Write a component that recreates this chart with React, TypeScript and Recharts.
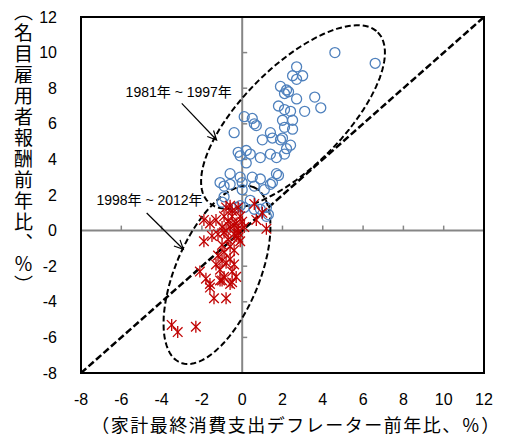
import { ScatterChart, Scatter, XAxis, YAxis, ReferenceLine, ReferenceArea } from "recharts"

const xTicks = [-8, -6, -4, -2, 0, 2, 4, 6, 8, 10, 12]
const yTicks = [-8, -6, -4, -2, 0, 2, 4, 6, 8, 10, 12]

// 1981-1997 (x: household consumption deflator yoy, y: compensation of employees yoy)
const period1 = [
  [4.6, 10.0], [6.6, 9.4], [2.7, 9.2], [2.5, 8.7], [3.0, 8.7], [2.7, 8.5], [1.9, 8.1], [2.2, 7.9],
  [2.1, 7.7], [2.3, 7.8], [2.7, 7.4], [3.6, 7.5], [3.9, 6.9], [3.1, 6.7], [1.8, 7.0], [2.1, 6.8],
  [2.4, 6.7], [0.1, 6.4], [0.5, 6.3], [0.6, 6.0], [0.7, 5.9], [2.0, 6.2], [2.5, 6.2], [2.1, 5.8],
  [2.5, 5.7], [-0.4, 5.5], [1.4, 5.5], [1.5, 5.2], [1.0, 5.1], [1.9, 5.1], [2.0, 5.2], [2.4, 4.8],
  [2.2, 4.6], [2.1, 4.3], [-0.2, 4.4], [0.2, 4.5], [0.4, 4.3], [-0.1, 4.2], [1.4, 4.3], [0.9, 4.1],
  [1.7, 4.1], [0.2, 3.8], [-0.6, 3.2], [0.5, 3.0], [0.9, 2.9], [1.7, 3.2], [1.8, 3.1], [-1.1, 2.7],
  [-0.9, 2.5], [0.0, 2.7], [0.0, 2.3], [0.6, 2.5], [1.4, 2.6], [1.5, 2.7], [1.1, 2.3], [-0.9, 1.9],
  [-1.0, 1.6], [-0.3, 1.3], [0.6, 1.2], [1.3, 0.9], [-0.1, 3.0], [-0.6, 2.6], [0.4, 1.7], [0.1, 1.3],
  [0.9, 1.2], [1.2, 1.3], [1.2, 0.8], [-0.1, 1.4],
]

// 1998-2012
const period2 = [
  [-0.6, 1.4], [-0.5, 1.1], [-0.2, 1.3], [-0.8, 1.3], [0.6, 1.5], [1.0, 1.0], [0.7, 0.6], [1.2, 0.1],
  [-1.9, 0.6], [-1.6, 0.4], [-1.3, 0.6], [-1.0, 0.2], [-0.8, 0.0], [-0.3, 0.4], [-0.1, 0.8], [-0.5, 0.8],
  [-0.9, 0.8], [-0.7, 0.5], [-0.9, -0.1], [-0.4, -0.2], [-0.2, -0.4], [-1.2, -0.2], [-0.3, -0.3], [-0.1, -0.6],
  [-0.7, -0.5], [-1.0, -0.8], [-0.6, -0.9], [-0.4, -1.1], [-0.9, -1.2], [-1.2, -1.4], [-1.9, -0.6], [-0.6, -1.6],
  [-1.0, -1.7], [-1.3, -1.9], [-0.8, -1.8], [-0.4, -1.9], [-1.1, -2.2], [-0.5, -2.3], [-2.1, -2.3], [-0.3, -2.6],
  [-0.9, -2.6], [-1.8, -2.7], [-1.1, -2.8], [-1.6, -3.0], [-0.5, -2.9], [-1.6, -3.2], [-1.0, -2.8], [-0.6, -3.0],
  [-1.4, -3.8], [-0.8, -3.8], [-3.5, -5.3], [-3.2, -5.7], [-2.3, -5.4], [-0.2, 0.1], [0.0, 0.5], [-0.4, 0.3],
  [-0.6, 0.2], [-0.2, -0.1], [0.1, 0.2], [-1.5, -0.3],
]

const periodLabels = ["1981年 ~ 1997年", "1998年 ~ 2012年"]
const xTitle = "（家計最終消費支出デフレーター前年比、％）"
const yTitle = "（名目雇用者報酬前年比、％）"

// dashed ellipses: centre + two conjugate half-axes, in data units
const ellipses = [
  { cx: 2.52, cy: 6.38, ux: 4.21, uy: 4.76, vx: 1.76, vy: -1.99 },
  { cx: -1.25, cy: -2.49, ux: 1.83, uy: 4.92, vx: 1.92, vy: -0.92 },
]

// label centre and arrow (from -> to), data units
const notes = [
  { lx: -3.15, ly: 7.8, fx: -3.0, fy: 7.15, tx: -1.27, ty: 5.09 },
  { lx: -4.6, ly: 1.72, fx: -4.74, fy: 0.99, tx: -2.92, ty: -1.05 },
]

const X_MIN = -8, X_MAX = 12, Y_MIN = -8, Y_MAX = 12
const FONT = "'Liberation Sans', Arial, 'Noto Sans CJK JP', sans-serif"
const CJK = "'Noto Sans CJK JP', 'Liberation Sans', sans-serif"
const BLUE = "#4F81BD"
const RED = "#C00000"
const GRAY = "#868686"

const blueData = period1.map(([x, y]) => ({ x, y }))
const redData = period2.map(([x, y]) => ({ x, y }))

function scales(p: any) {
  const sx = (v: number) => p.x + ((v - X_MIN) / (X_MAX - X_MIN)) * p.width
  const sy = (v: number) => p.y + ((Y_MAX - v) / (Y_MAX - Y_MIN)) * p.height
  return { sx, sy }
}

function ZeroAxes(p: any) {
  const { sx, sy } = scales(p)
  const x0 = sx(0)
  const y0 = sy(0)
  return (
    <g stroke={GRAY} strokeWidth={2}>
      <line x1={x0} y1={p.y} x2={x0} y2={p.y + p.height} />
      <line x1={p.x} y1={y0} x2={p.x + p.width} y2={y0} />
      {xTicks.map((t) => (
        <line key={`xt${t}`} x1={sx(t)} y1={y0} x2={sx(t)} y2={y0 - 5} strokeWidth={1.5} />
      ))}
      {yTicks.map((t) => (
        <line key={`yt${t}`} x1={x0} y1={sy(t)} x2={x0 + 5} y2={sy(t)} strokeWidth={1.5} />
      ))}
    </g>
  )
}

function Overlay(p: any) {
  const { sx, sy } = scales(p)
  const paths = ellipses.map((e) => {
    const pts: string[] = []
    for (let i = 0; i <= 120; i++) {
      const t = (i / 120) * Math.PI * 2
      const dx = e.cx + e.ux * Math.cos(t) + e.vx * Math.sin(t)
      const dy = e.cy + e.uy * Math.cos(t) + e.vy * Math.sin(t)
      pts.push(`${i === 0 ? "M" : "L"}${sx(dx).toFixed(1)},${sy(dy).toFixed(1)}`)
    }
    return pts.join(" ") + " Z"
  })
  return (
    <g>
      {paths.map((d, i) => (
        <path key={i} d={d} fill="none" stroke="#000" strokeWidth={2} strokeDasharray="6 3" />
      ))}
      {notes.map((n, i) => {
        const x1 = sx(n.fx), y1 = sy(n.fy), x2 = sx(n.tx), y2 = sy(n.ty)
        const ang = Math.atan2(y2 - y1, x2 - x1)
        const head = (a: number) => `${x2 - 10 * Math.cos(ang + a)},${y2 - 10 * Math.sin(ang + a)}`
        return (
          <g key={i}>
            <text x={sx(n.lx)} y={sy(n.ly)} textAnchor="middle" dominantBaseline="central"
              fontFamily={FONT} fontSize={14} fill="#000">{periodLabels[i]}</text>
            <line x1={x1} y1={y1} x2={x2} y2={y2} stroke="#000" strokeWidth={1.2} />
            <polyline points={`${head(0.45)} ${x2},${y2} ${head(-0.45)}`} fill="none" stroke="#000" strokeWidth={1.2} />
          </g>
        )
      })}
      <rect x={p.x} y={p.y} width={p.width} height={p.height} fill="none" stroke="#000" strokeWidth={2} />
      <text x={296} y={424} textAnchor="middle" dominantBaseline="central" fontFamily={CJK}
        fontSize={18} letterSpacing={1.5} fill="#000">{xTitle}</text>
    </g>
  )
}

const Ring = (props: any) => (
  <circle cx={props.cx} cy={props.cy} r={5} fill="none" stroke={BLUE} strokeWidth={1.3} />
)

const Star = (props: any) => {
  const { cx, cy } = props
  const r = 6
  const d = r * 0.8
  return (
    <g stroke={RED} strokeWidth={1.3}>
      <line x1={cx - d} y1={cy - d} x2={cx + d} y2={cy + d} />
      <line x1={cx - d} y1={cy + d} x2={cx + d} y2={cy - d} />
      <line x1={cx} y1={cy - r} x2={cx} y2={cy + r} />
    </g>
  )
}

export default function App() {
  return (
    <div style={{ position: "absolute", left: 0, top: 0, width: 508, height: 439, background: "#fff" }}>
      <ScatterChart width={508} height={439} margin={{ top: 17, right: 24, bottom: 0, left: 0 }}>
        <XAxis type="number" dataKey="x" domain={[X_MIN, X_MAX]} ticks={xTicks} allowDataOverflow
          height={66} tickLine={false} axisLine={false} tickSize={18} tickMargin={3}
          tick={{ fill: "#000", fontSize: 16, fontFamily: FONT }} />
        <YAxis type="number" dataKey="y" domain={[Y_MIN, Y_MAX]} ticks={yTicks} allowDataOverflow
          width={81} tickLine={false} axisLine={false} tickSize={20} tickMargin={4}
          tick={{ fill: "#000", fontSize: 16, fontFamily: FONT }} />
        <ReferenceArea x1={X_MIN} x2={X_MAX} y1={Y_MIN} y2={Y_MAX} shape={ZeroAxes} />
        <Scatter data={blueData} shape={Ring} isAnimationActive={false} />
        <Scatter data={redData} shape={Star} isAnimationActive={false} />
        <ReferenceLine segment={[{ x: X_MIN, y: Y_MIN }, { x: X_MAX, y: Y_MAX }]} stroke="#000"
          strokeWidth={2.5} strokeDasharray="7 3" />
        <ReferenceArea x1={X_MIN} x2={X_MAX} y1={Y_MIN} y2={Y_MAX} shape={Overlay} />
      </ScatterChart>
      <div style={{ position: "absolute", left: 13, top: 2, writingMode: "vertical-rl", fontFamily: CJK,
        fontSize: 19, lineHeight: "20px", letterSpacing: 2, color: "#000" }}>{yTitle}</div>
    </div>
  )
}
